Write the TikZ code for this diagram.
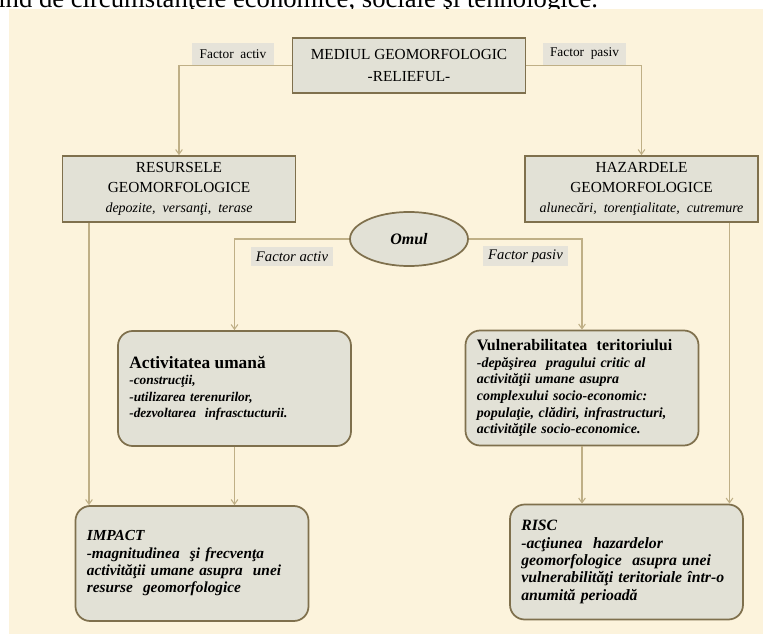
\documentclass[tikz,border=0pt]{standalone}
\usepackage{fontspec}
\setmainfont{Liberation Serif}
\usetikzlibrary{arrows.meta,shapes.geometric}

\definecolor{parchment}{HTML}{FCF3DC}
\definecolor{boxfill}{HTML}{E2E1D6}
\definecolor{boxline}{HTML}{7F704D}
\definecolor{wire}{HTML}{BFAF86}
\definecolor{tagfill}{HTML}{E6E3D9}

\tikzset{
  sqbox/.style={draw=boxline, fill=boxfill, line width=1.3pt, align=center,
    inner sep=0pt, minimum width=174.75pt},
  rndbox/.style={draw=boxline, fill=boxfill, line width=1.3pt, rounded corners=11pt,
    minimum height=86.25pt, inner xsep=8.5pt, text width=157.75pt, align=left},
  tag/.style={fill=tagfill, inner sep=0pt},
  conn/.style={draw=wire, line width=0.8pt, ->},
  >={Straight Barb[length=3.5pt,width=5pt]},
}

\begin{document}
\begin{tikzpicture}[x=0.75pt,y=-0.75pt]
	\useasboundingbox (0,0) rectangle (763,634);
	% page text cut off at the top
	\begin{scope}
		\clip (0,0) rectangle (763,9);
		\node[anchor=base west, inner sep=0pt, font=\fontsize{20}{24}\selectfont] (pagetxt) at (-2,8)
			{ind de circumstanţele economice, sociale şi tehnologice.};
	\end{scope}
	% background
	\fill[parchment] (9,9) rectangle (763,634);
	% the relief
	\node[sqbox, minimum height=41.25pt, font=\fontsize{11.5}{16.5}\selectfont] (relief) at (409,65.5)
		{MEDIUL GEOMORFOLOGIC\\-RELIEFUL-};
	\node[sqbox, minimum height=49.5pt, font=\fontsize{11.5}{15}\selectfont] (res) at (179,189)
		{RESURSELE\\GEOMORFOLOGICE\\{\fontsize{10.5}{15}\selectfont\itshape depozite,\ \ versanţi,\ \ terase}};
	\node[sqbox, minimum height=49.5pt, font=\fontsize{11.5}{15}\selectfont] (haz) at (641.5,189)
		{HAZARDELE\\GEOMORFOLOGICE\\{\fontsize{10.5}{15}\selectfont\itshape alunecări,\ \ torenţialitate,\ \ cutremure}};
	\node[tag, minimum width=61.5pt, minimum height=16.5pt, font=\fontsize{10}{12}\selectfont] (tagact) at (233,54) {Factor\ \ activ};
	\node[tag, minimum width=62.25pt, minimum height=16.5pt, font=\fontsize{10}{12}\selectfont] (tagpas) at (584.5,54) {Factor\ \ pasiv};
	\draw[conn] (relief.west) -| (res.north);
	\draw[conn] (relief.east) -| (haz.north);
	% man
	\node[ellipse, draw=boxline, fill=boxfill, line width=1.3pt, inner sep=0pt,
		minimum width=88.5pt, minimum height=40.5pt, font=\fontsize{12}{14}\selectfont\bfseries\itshape] (omul) at (409,239) {Omul};
	\node[tag, minimum width=61.5pt, minimum height=14.25pt, font=\fontsize{11}{13}\selectfont\itshape] (tagom1) at (292,256.5) {Factor activ};
	\node[tag, minimum width=63.75pt, minimum height=15pt, font=\fontsize{11}{13}\selectfont\itshape] (tagom2) at (525.5,256) {Factor pasiv};
	% rounded boxes
	\node[rndbox, font=\fontsize{10}{12.3}\selectfont\bfseries\itshape] (act) at (234.5,388.5)
		{{\upshape\fontsize{13}{13}\selectfont Activitatea umană}\\-construcţii,\\-utilizarea terenurilor,\\-dezvoltarea\ \ infrasctucturii.};
	\node[rndbox, font=\fontsize{10.5}{12.5}\selectfont\bfseries\itshape] (vul) at (582,388)
		{{\upshape\fontsize{12}{12.5}\selectfont Vulnerabilitatea\ \ teritoriului}\\-depăşirea\ \ pragului critic al\\activităţii umane asupra\\complexului socio-economic:\\populaţie, clădiri, infrastructuri,\\activităţile socio-economice.};
	\node[rndbox, font=\fontsize{11.5}{13}\selectfont\bfseries\itshape] (imp) at (192,563.5)
		{IMPACT\\-magnitudinea\ \ şi frecvenţa\\activităţii umane asupra\ \ unei\\resurse\ \ geomorfologice};
	\node[rndbox, font=\fontsize{11.8}{13}\selectfont\bfseries\itshape] (risc) at (626.5,562)
		{RISC\\-acţiunea\ \ hazardelor\\geomorfologice\ \ asupra unei\\vulnerabilităţi teritoriale într-o\\anumită perioadă};
	\draw[conn] (omul.west) -| (act.north);
	\draw[conn] (omul.east) -| (vul.north);
	% down to impact and risk
	\coordinate (resout) at ([xshift=-67.5pt]res.south);
	\coordinate (hazout) at ([xshift=66pt]haz.south);
	\draw[conn] (resout) -- (resout |- imp.north);
	\draw[conn] (act.south) -- (act.south |- imp.north);
	\draw[conn] (vul.south) -- (vul.south |- risc.north);
	\draw[conn] (hazout) -- (hazout |- risc.north);
\end{tikzpicture}
\end{document}
